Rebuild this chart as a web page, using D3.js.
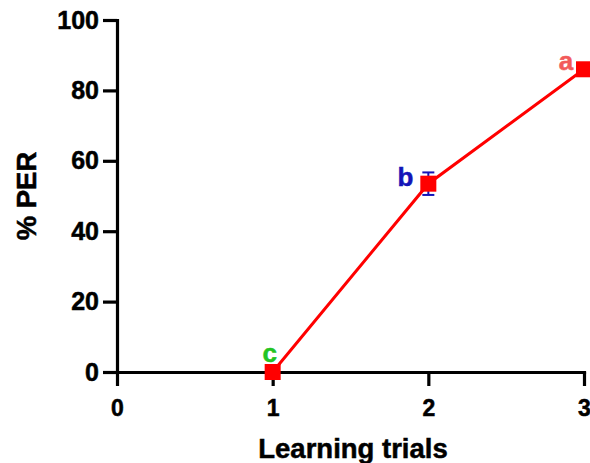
<html>
<head>
<meta charset="utf-8">
<style>
  body { margin: 0; background: #fff; }
  text { font-family: "Liberation Sans", Arial, sans-serif; font-weight: bold; }
</style>
</head>
<body>
<svg width="590" height="463"></svg>
<script src="https://cdn.jsdelivr.net/npm/d3@7/dist/d3.min.js"></script>
<script>
const trials = [1, 2, 3];
const per = [0, 53.5, 86];
const sem = [0, 3.2, 0];
const letters = ['c', 'b', 'a'];
const letterColors = ['#22c422', '#1414b8', '#f25a5a'];
const xTicks = [0, 1, 2, 3];
const yTicks = [0, 20, 40, 60, 80, 100];

const svg = d3.select('svg');

const x = d3.scaleLinear().domain([0, 3]).range([117, 584]);
const y = d3.scaleLinear().domain([0, 100]).range([372, 20]);

// axes
const xAxis = svg.append('g')
    .attr('transform', `translate(0,${y(0)})`)
    .call(d3.axisBottom(x).tickValues(xTicks).tickFormat(d3.format('d')).tickSize(14).tickSizeOuter(0).tickPadding(14));

const yAxis = svg.append('g')
    .attr('transform', `translate(${x(0)},0)`)
    .call(d3.axisLeft(y).tickValues(yTicks).tickSize(14).tickSizeOuter(0).tickPadding(4));

[xAxis, yAxis].forEach(a => {
    a.selectAll('path, line').attr('stroke', '#000').attr('stroke-width', 3.2);
    a.select('.domain').attr('stroke-linecap', 'square');
});
xAxis.selectAll('text').style('font-size', '23px').attr('fill', '#000')
    .attr('stroke', '#000').attr('stroke-width', 0.5);
yAxis.selectAll('text').style('font-size', '25px').attr('fill', '#000')
    .attr('stroke', '#000').attr('stroke-width', 0.5);

// axis titles
svg.append('text')
    .attr('x', 353).attr('y', 458)
    .attr('text-anchor', 'middle')
    .style('font-size', '27.5px')
    .attr('stroke', '#000').attr('stroke-width', 0.5)
    .text('Learning trials');

svg.append('text')
    .attr('transform', `translate(36,${(y(0) + y(100)) / 2}) rotate(-90)`)
    .attr('text-anchor', 'middle')
    .style('font-size', '27.5px')
    .attr('stroke', '#000').attr('stroke-width', 0.5)
    .text('% PER');

const pts = trials.map((t, i) => ({ t, v: per[i], e: sem[i], l: letters[i], c: letterColors[i] }));

// line
svg.append('path')
    .datum(pts)
    .attr('fill', 'none')
    .attr('stroke', '#ff0000')
    .attr('stroke-width', 3)
    .attr('d', d3.line().x(d => x(d.t)).y(d => y(d.v)));

// error bars
const eb = svg.append('g').attr('stroke', '#1414b8').attr('stroke-width', 2);
pts.filter(d => d.e > 0).forEach(d => {
    eb.append('line').attr('x1', x(d.t)).attr('x2', x(d.t)).attr('y1', y(d.v - d.e)).attr('y2', y(d.v + d.e));
    [d.v - d.e, d.v + d.e].forEach(v => {
        eb.append('line').attr('x1', x(d.t) - 6).attr('x2', x(d.t) + 6).attr('y1', y(v)).attr('y2', y(v));
    });
});

// markers
svg.selectAll('rect.pt')
    .data(pts)
    .enter().append('rect')
    .attr('class', 'pt')
    .attr('x', d => x(d.t) - 8)
    .attr('y', d => y(d.v) - 8)
    .attr('width', 16)
    .attr('height', 16)
    .attr('fill', '#ff0000');

// significance letters
const offs = [[-3, -10], [-23, 2], [-18, 1]];
svg.selectAll('text.sig')
    .data(pts)
    .enter().append('text')
    .attr('class', 'sig')
    .attr('x', (d, i) => x(d.t) + offs[i][0])
    .attr('y', (d, i) => y(d.v) + offs[i][1])
    .attr('text-anchor', 'middle')
    .style('font-size', '26px')
    .attr('fill', d => d.c)
    .attr('stroke', d => d.c).attr('stroke-width', 0.5)
    .text(d => d.l);
</script>
</body>
</html>
